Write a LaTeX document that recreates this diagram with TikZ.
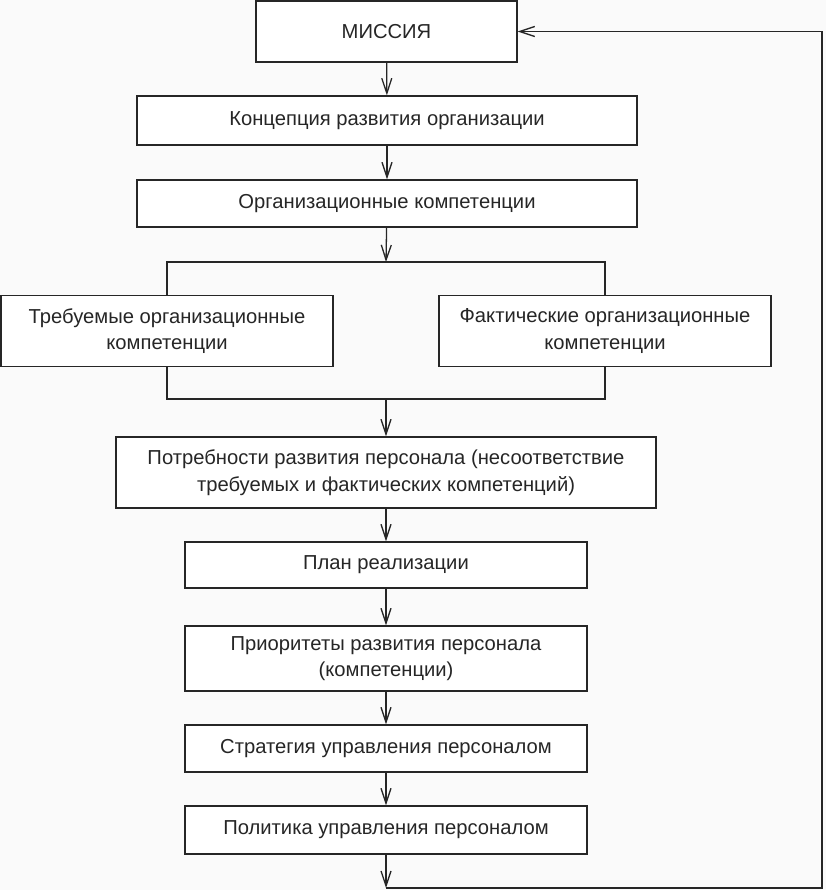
\documentclass[tikz,border=0pt]{standalone}
\usepackage{fontspec}
\setmainfont{Liberation Sans}
\usetikzlibrary{arrows.meta}
\tikzset{
  box/.style={draw=black!85, line width=1.4pt, fill=white, align=center, inner sep=2pt,
    font=\fontsize{20.2}{26.5}\selectfont, text=black!85},
  conn/.style={draw=black!85, line width=1.3pt},
  arr/.style={conn, -{Straight Barb[length=15pt, width=10pt, line width=1.3pt]}}
}
\begin{document}
\begin{tikzpicture}[x=1pt, y=-1pt]
\useasboundingbox (0,0) rectangle (826,890);
\fill[black!2] (0,0) rectangle (826,890);
\node[box, minimum width=261pt, minimum height=61pt] (mis) at (386.5,31.5) {МИССИЯ};
\node[box, minimum width=500pt, minimum height=49pt] (konc) at (387,120.5) {Концепция развития организации};
\node[box, minimum width=500pt, minimum height=47pt] (org) at (387,203.5) {Организационные компетенции};
\node[box, minimum width=332pt, minimum height=71pt] (treb) at (167,331) {Требуемые организационные\\компетенции};
\node[box, minimum width=332pt, minimum height=71pt] (fakt) at (605,331) {Фактические организационные\\компетенции};
\node[box, minimum width=540pt, minimum height=71pt] (potr) at (386,472.5) {Потребности развития персонала (несоответствие\\требуемых и фактических компетенций)};
\node[box, minimum width=402pt, minimum height=46pt] (plan) at (386,565) {План реализации};
\node[box, minimum width=402pt, minimum height=65pt] (prio) at (386,658.5) {Приоритеты развития персонала\\(компетенции)};
\node[box, minimum width=402pt, minimum height=47pt] (strat) at (386,748.5) {Стратегия управления персоналом};
\node[box, minimum width=402pt, minimum height=48pt] (pol) at (386,830) {Политика управления персоналом};
\coordinate (topbar) at (386,262);
\coordinate (botbar) at (386,399);
\coordinate (bl) at (386,888);
\coordinate (br) at (822,888);
\draw[arr] (mis) -- (konc);
\draw[arr] (konc) -- (org);
\draw[arr] (org) -- (topbar);
\draw[conn] (treb.north) |- (topbar) -| (fakt.north);
\draw[conn] (treb.south) |- (botbar) -| (fakt.south);
\draw[arr] (botbar) -- (potr);
\draw[arr] (potr) -- (plan);
\draw[arr] (plan) -- (prio);
\draw[arr] (prio) -- (strat);
\draw[arr] (strat) -- (pol);
\draw[arr] (pol) -- (bl);
\draw[arr] (bl) -- (br) |- (mis.east);
\end{tikzpicture}
\end{document}
